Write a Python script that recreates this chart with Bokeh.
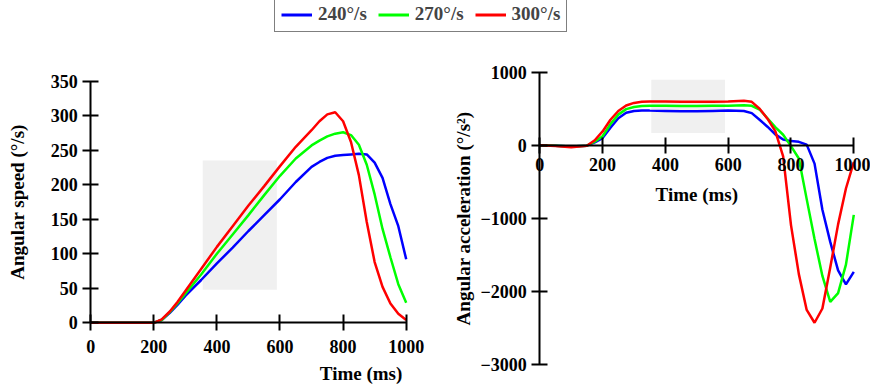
from bokeh.plotting import figure
from bokeh.layouts import column, row
from bokeh.models import FixedTicker, Label, Legend, LegendItem, Range1d
from bokeh.embed import file_html
from bokeh.resources import INLINE

# ---------------- data ----------------
series_names = ["240°/s", "270°/s", "300°/s"]
series_colors = ["#0000ff", "#00ff00", "#ff0000"]

time_speed = [0, 100, 200, 225, 250, 275, 300, 350, 400, 450, 500, 550, 600, 650,
              700, 725, 750, 775, 800, 825, 850, 875, 900, 925, 950, 975, 1000]
speed_240 = [0, 0, 0, 4, 14, 26, 39, 62, 86, 109, 133, 156, 179, 204,
             226, 233, 239, 242, 243, 244, 245, 244, 232, 210, 172, 140, 92]
speed_270 = [0, 0, 0, 4, 15, 28, 42, 70, 100, 128, 156, 185, 213, 238,
             257, 264, 270, 274, 276, 272, 258, 229, 186, 136, 95, 56, 29]
speed_300 = [0, 0, 0, 5, 16, 30, 46, 78, 110, 140, 170, 198, 227, 255,
             279, 292, 302, 305, 292, 262, 214, 146, 88, 52, 28, 13, 4]

time_acc = [0, 50, 100, 150, 175, 200, 225, 250, 275, 300, 325, 350, 400, 450, 500, 550,
            600, 650, 675, 700, 725, 750, 775, 800, 825, 850, 875, 900, 925, 950, 975, 1000]
acc_240 = [0, -5, -15, -5, 40, 100, 240, 370, 445, 470, 478, 475, 470, 465, 465, 470,
           475, 470, 440, 350, 255, 150, 80, 58, 48, 10, -250, -880, -1320, -1710, -1900, -1730]
acc_270 = [0, -5, -15, -5, 50, 125, 290, 420, 495, 525, 537, 540, 540, 538, 537, 540,
           543, 548, 540, 490, 370, 250, 145, -10, -180, -735, -1280, -1785, -2140, -2020, -1630, -950]
acc_300 = [0, -10, -25, -5, 70, 190, 350, 470, 545, 580, 595, 598, 598, 595, 595, 597,
           600, 610, 595, 500, 365, 195, -150, -1090, -1760, -2250, -2425, -2230, -1670, -1080, -590, -230]

time_ticks = [0, 200, 400, 600, 800, 1000]
speed_ticks = [0, 50, 100, 150, 200, 250, 300, 350]
acc_ticks = [-3000, -2000, -1000, 0, 1000]

shade_time = [355, 590]
shade_speed = [48, 235]
shade_acc = [168, 897]

FONT = "Liberation Serif"


def style(p):
    p.grid.visible = False
    p.outline_line_color = None
    p.background_fill_color = "white"
    for ax in p.axis:
        ax.fixed_location = 0
        ax.axis_line_width = 2
        ax.axis_line_color = "black"
        ax.major_tick_line_width = 2
        ax.major_tick_line_color = "black"
        ax.major_tick_in = 8
        ax.major_tick_out = 8
        ax.minor_tick_line_color = None
        ax.major_label_text_font = FONT
        ax.major_label_text_font_style = "bold"
        ax.major_label_text_font_size = "18px"
        ax.major_label_text_color = "black"
        ax.axis_label_text_font = FONT
        ax.axis_label_text_font_style = "bold"
        ax.axis_label_text_font_size = "19px"
        ax.axis_label_text_color = "black"


# ---------------- left: angular speed ----------------
# frame spans the whole canvas; axes sit at 0 with bounds
p1 = figure(width=444, height=348, x_range=Range1d(-285.9, 1121.4), y_range=Range1d(-89.4, 414.8),
            toolbar_location=None, output_backend="svg", min_border=0)
p1.quad(left=[shade_time[0]], right=[shade_time[1]], bottom=[shade_speed[0]], top=[shade_speed[1]],
        fill_color="#f0f0f0", line_color=None)
for ys, c in zip([speed_240, speed_270, speed_300], series_colors):
    p1.line(time_speed, ys, line_color=c, line_width=2.5)
style(p1)
p1.xaxis.ticker = FixedTicker(ticks=time_ticks)
p1.xaxis.bounds = (time_ticks[0], time_ticks[-1])
p1.yaxis.ticker = FixedTicker(ticks=speed_ticks)
p1.yaxis.bounds = (speed_ticks[0], speed_ticks[-1])
p1.xaxis.major_label_standoff = 9
p1.yaxis.major_label_standoff = 5
p1.yaxis.axis_label = "Angular speed (°/s)"
p1.yaxis.axis_label_standoff = 20
p1.add_layout(Label(x=857, y=-73, text="Time (ms)", text_align="center", text_baseline="middle",
                    text_font=FONT, text_font_style="bold", text_font_size="19px", text_color="black"))

# ---------------- right: angular acceleration ----------------
p2 = figure(width=426, height=348, x_range=Range1d(-303.5, 1053.2), y_range=Range1d(-3269, 1488),
            toolbar_location=None, output_backend="svg", min_border=0)
p2.quad(left=[shade_time[0]], right=[shade_time[1]], bottom=[shade_acc[0]], top=[shade_acc[1]],
        fill_color="#f0f0f0", line_color=None)
for ys, c in zip([acc_240, acc_270, acc_300], series_colors):
    p2.line(time_acc, ys, line_color=c, line_width=2.5)
style(p2)
p2.xaxis.ticker = FixedTicker(ticks=time_ticks)
p2.xaxis.bounds = (time_ticks[0], time_ticks[-1])
p2.yaxis.ticker = FixedTicker(ticks=acc_ticks)
p2.yaxis.bounds = (acc_ticks[0], acc_ticks[-1])
p2.xaxis.major_label_standoff = 5
p2.yaxis.major_label_standoff = 5
p2.yaxis.axis_label = "Angular acceleration (°/s²)"
p2.yaxis.axis_label_standoff = 3
p2.add_layout(Label(x=500, y=-670, text="Time (ms)", text_align="center", text_baseline="middle",
                    text_font=FONT, text_font_style="bold", text_font_size="19px", text_color="black"))

# ---------------- legend strip ----------------
pl = figure(width=870, height=36, x_range=Range1d(0, 1), y_range=Range1d(-2, -1),
            toolbar_location=None, output_backend="svg", min_border=0)
pl.axis.visible = False
pl.grid.visible = False
pl.outline_line_color = None
items = []
for name, c, ys in zip(series_names, series_colors, [speed_240, speed_270, speed_300]):
    r = pl.line(time_speed, ys, line_color=c, line_width=3)  # off-frame, legend swatch only
    items.append(LegendItem(label=name, renderers=[r]))
legend = Legend(items=items, orientation="horizontal", location=(274, 4),
                label_text_font=FONT, label_text_font_style="bold", label_text_font_size="19px",
                glyph_width=31, glyph_height=17, label_height=17, label_standoff=6, spacing=11,
                padding=6, border_line_color="black", border_line_width=1, margin=0)
pl.add_layout(legend)

layout = column(pl, row(p1, p2))
open("out.html", "w").write(file_html(layout, INLINE))
